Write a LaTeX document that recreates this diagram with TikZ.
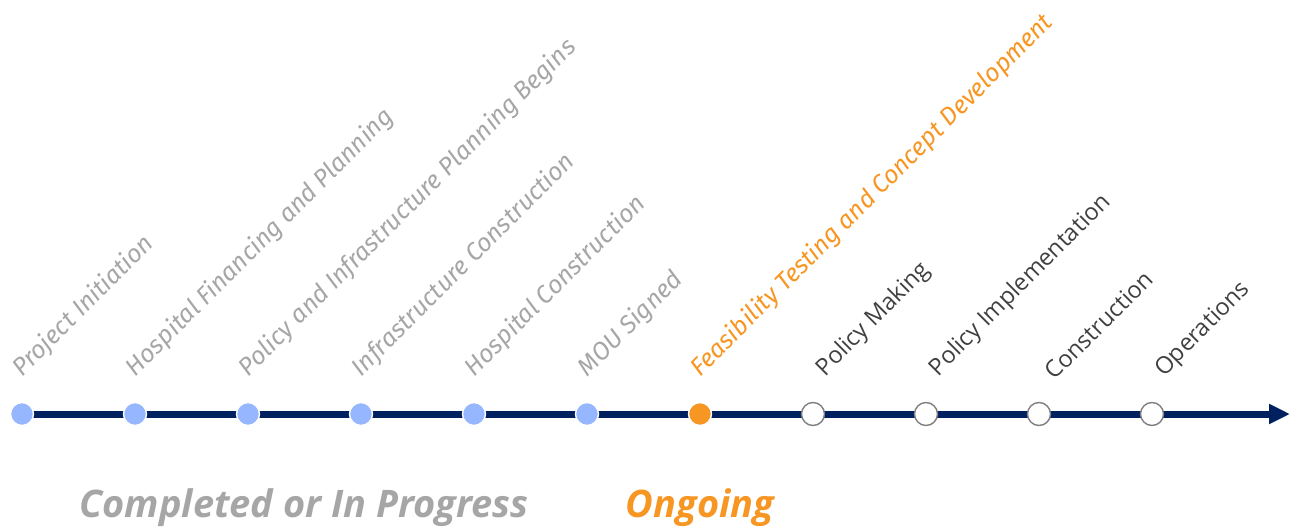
\documentclass[tikz,border=0pt]{standalone}
\usepackage{fontspec}
\setmainfont{Open Sans}
\newfontfamily\slantfont{Fira Sans}
\usepackage{tikz}
\usetikzlibrary{arrows.meta, positioning}
\definecolor{navy}{RGB}{0,32,96}
\definecolor{doneblue}{RGB}{150,182,255}
\definecolor{ongoing}{RGB}{247,150,34}
\definecolor{donegray}{RGB}{166,166,166}
\definecolor{darktext}{RGB}{64,64,64}
\tikzset{
    timeline/.style={-{Triangle[length=0.42cm,width=0.38cm]}, line width=0.14cm, navy},
    done/.style={circle, draw=white, line width=0.8pt, fill=doneblue, minimum size=0.46cm, inner sep=0},
    current/.style={circle, draw=white, line width=0.8pt, fill=ongoing, minimum size=0.46cm, inner sep=0},
    future/.style={circle, draw=gray, line width=0.8pt, fill=white, minimum size=0.46cm, inner sep=0},
    donelabel/.style={rotate=45, anchor=south west, inner sep=0, font=\fontsize{14.2}{17}\selectfont\slantfont\itshape, text=donegray},
    currentlabel/.style={rotate=45, anchor=south west, inner sep=0, font=\fontsize{14.2}{17}\selectfont\slantfont\itshape, text=ongoing},
    futurelabel/.style={rotate=45, anchor=south west, inner sep=0, font=\fontsize{13.4}{16}\selectfont, text=darktext},
    legend/.style={font=\fontsize{21.6}{26}\selectfont\bfseries\itshape, inner sep=0}
}
\begin{document}
\begin{tikzpicture}
    \useasboundingbox (0,0) rectangle (25.86,10.58);
    % Timeline axis
    \coordinate (timeline_start) at (0.44,2.30);
    \coordinate (timeline_end) at (25.80,2.30);
    \draw[timeline] (timeline_start) -- (timeline_end);
    % Completed milestones
    \node[done] (initiation) at (0.44,2.30) {};
    \node[done] (financing) at (2.70,2.30) {};
    \node[done] (planning) at (4.96,2.30) {};
    \node[done] (infrastructure) at (7.22,2.30) {};
    \node[done] (hospital) at (9.48,2.30) {};
    \node[done] (mou) at (11.74,2.30) {};
    % Ongoing milestone
    \node[current] (feasibility) at (14.00,2.30) {};
    % Upcoming milestones
    \node[future] (policy_making) at (16.26,2.30) {};
    \node[future] (policy_impl) at (18.52,2.30) {};
    \node[future] (construction) at (20.78,2.30) {};
    \node[future] (operations) at (23.04,2.30) {};
    % Milestone labels
    \node[donelabel] (initiation_label) at (0.53,2.95) {Project Initiation};
    \node[donelabel] (financing_label) at (2.79,2.95) {Hospital Financing and Planning};
    \node[donelabel] (planning_label) at (5.05,2.95) {Policy and Infrastructure Planning Begins};
    \node[donelabel] (infrastructure_label) at (7.31,2.95) {Infrastructure Construction};
    \node[donelabel] (hospital_label) at (9.57,2.95) {Hospital Construction};
    \node[donelabel] (mou_label) at (11.83,2.95) {MOU Signed};
    \node[currentlabel] (feasibility_label) at (14.09,2.95) {Feasibility Testing and Concept Development};
    \node[futurelabel] (policy_making_label) at (16.58,2.95) {Policy Making};
    \node[futurelabel] (policy_impl_label) at (18.84,2.95) {Policy Implementation};
    \node[futurelabel] (construction_label) at (21.10,2.95) {Construction};
    \node[futurelabel] (operations_label) at (23.36,2.95) {Operations};
    % Legend
    \node[legend, text=donegray] (completed_legend) at (6.08,0.42) {Completed or In Progress};
    \node[legend, text=ongoing] (ongoing_legend) at (14.00,0.42) {Ongoing};
\end{tikzpicture}
\end{document}
